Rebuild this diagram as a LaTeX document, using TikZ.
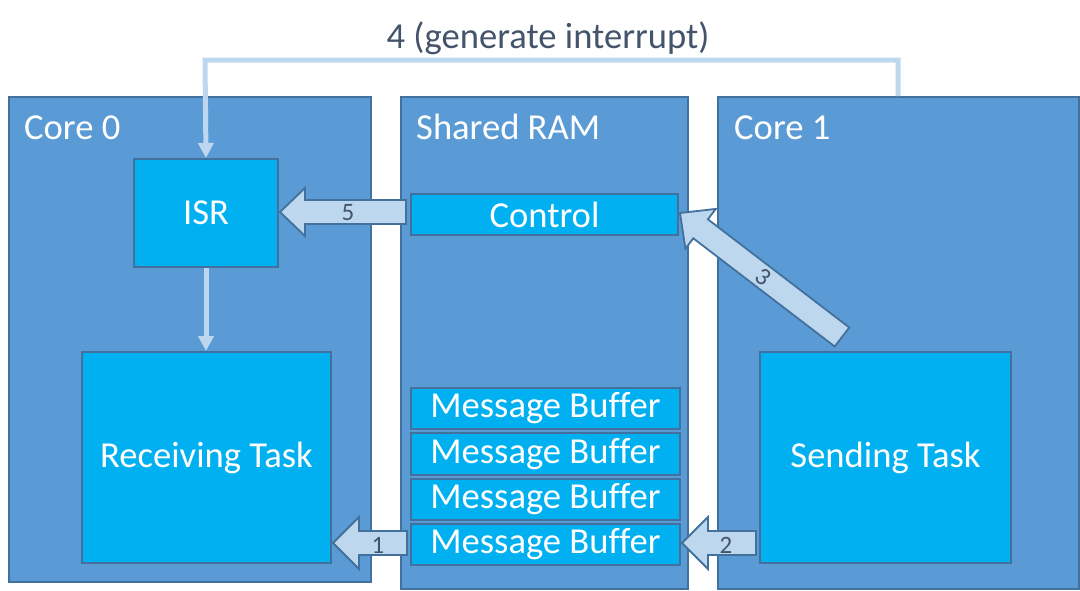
\documentclass[tikz,border=0pt]{standalone}
\usepackage{fontspec}
\setmainfont{Carlito}[Ligatures=NoCommon]
\usetikzlibrary{arrows.meta}
\definecolor{corefill}{HTML}{5B9BD5}
\definecolor{bordc}{HTML}{41719C}
\definecolor{cyanfill}{HTML}{00B0F0}
\definecolor{lightc}{HTML}{BDD7EE}
\definecolor{textdark}{HTML}{44546A}
\begin{document}
\begin{tikzpicture}[x=1pt,y=-1pt,
  bigfont/.style={font=\fontsize{36.6}{44}\selectfont},
  corebox/.style={draw=bordc, line width=2pt, fill=corefill, anchor=north west, inner sep=0pt},
  innerbox/.style={draw=bordc, line width=2pt, fill=cyanfill, anchor=north west, inner sep=0pt, text=white, bigfont},
  boxtitle/.style={anchor=base west, text=white, bigfont, inner sep=0pt},
  conn/.style={draw=lightc, line width=5pt, -{Triangle[width=15pt,length=15pt]}},
  blockarr/.style={draw=bordc, line width=1.8pt, fill=lightc, line join=miter},
  numlabel/.style={text=textdark, font=\fontsize{25}{29}\selectfont, inner sep=0pt}
]
\useasboundingbox (0,0) rectangle (1080,590);

% outer boxes
\node[corebox, minimum width=362pt, minimum height=485pt] (core0) at (8,96) {};
\node[corebox, minimum width=287pt, minimum height=492pt] (ram) at (400,96) {};
\node[corebox, minimum width=361pt, minimum height=492pt] (core1) at (717,96) {};

\node[boxtitle] (core0t) at (24,139) {Core 0};
\node[boxtitle] (ramt) at (416,139) {Shared RAM};
\node[boxtitle] (core1t) at (734,139) {Core 1};

% inner boxes
\node[innerbox, minimum width=144pt, minimum height=108pt] (isr) at (133,158) {ISR};
\node[innerbox, minimum width=249pt, minimum height=211pt] (recv) at (81,351) {Receiving Task};
\node[innerbox, minimum width=251pt, minimum height=211pt] (send) at (759,351) {Sending Task};
\node[innerbox, minimum width=267pt, minimum height=41pt] (ctrl) at (410,193) {Control};
\node[innerbox, minimum width=269pt, minimum height=41pt] (mb1) at (410,387) {Message Buffer};
\node[innerbox, minimum width=269pt, minimum height=42pt] (mb2) at (410,432) {Message Buffer};
\node[innerbox, minimum width=269pt, minimum height=41pt] (mb3) at (410,478) {Message Buffer};
\node[innerbox, minimum width=269pt, minimum height=41pt] (mb4) at (410,523) {Message Buffer};

% connector 4
\node[text=textdark, bigfont, inner sep=0pt] (t4) at (548,38) {4 (generate interrupt)};
\coordinate (c4s) at (898,96);
\draw[conn] (c4s) |- (205,60) -- (isr.north);
\draw[conn] (isr.south) -- (recv.north -| isr.south);

% block arrow 5
\draw[blockarr] (280,212) -- (305,188) -- (305,200) -- (406,200) -- (406,224) -- (305,224) -- (305,236) -- cycle;
\node[numlabel] (l5) at (348,213) {5};

% block arrow 1
\draw[blockarr] (333,543) -- (359,517) -- (359,531) -- (407,531) -- (407,555) -- (359,555) -- (359,569) -- cycle;
\node[numlabel] (l1) at (378,545) {1};

% block arrow 2
\draw[blockarr] (682,543) -- (708,517) -- (708,531) -- (756,531) -- (756,555) -- (708,555) -- (708,569) -- cycle;
\node[numlabel] (l2) at (726,545) {2};

% block arrow 3 (diagonal)
\draw[blockarr] (680,213) -- (715.8,208.9) -- (707.9,219.3) -- (849.3,327.5) -- (834.7,346.5) -- (693.3,238.3) -- (685.4,248.7) -- cycle;
\node[numlabel, rotate=-37.4] (l3) at (763,277) {3};
\end{tikzpicture}
\end{document}
